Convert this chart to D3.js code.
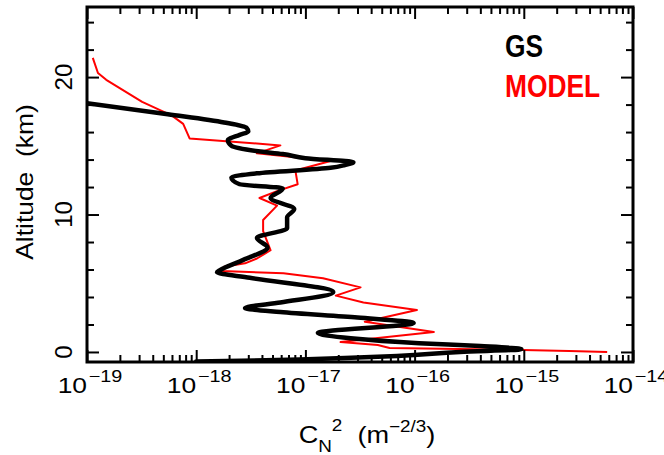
<!DOCTYPE html>
<html>
<head>
<meta charset="utf-8">
<script src="https://cdn.jsdelivr.net/npm/d3@7"></script>
<style>
  body { margin: 0; background: #fff; }
  svg { display: block; }
  text { font-family: "Liberation Sans", Arial, Helvetica, sans-serif; }
</style>
</head>
<body>
<svg id="chart" width="664" height="455"></svg>
<script>
// Ground-based scintillometer profile (GS): altitude in km, Cn2 in m^-2/3
const gsAltitude = [18.1, 17.3, 16.7, 16.3, 16.05, 15.8, 15.4, 15.0, 14.6, 14.4, 14.1, 13.8, 13.6, 13.4,
  13.0, 12.7, 12.2, 11.9, 11.2, 10.4, 9.8, 9.0, 8.3, 7.6, 6.7, 5.95, 5.8, 5.4, 4.35, 3.6, 3.2, 2.9,
  2.5, 2.1, 1.38, 1.0, 0.64, 0.43, 0.2, 0.0, -0.3, -0.55, -0.7];
const gsCn2 = [1.0e-19, 5.5e-19, 1.8e-18, 2.9e-18, 3.0e-18, 2.5e-18, 1.95e-18, 2.1e-18, 3.7e-18, 6.2e-18,
  1.0e-17, 2.75e-17, 2.3e-17, 1.7e-17, 3.6e-18, 2.1e-18, 2.5e-18, 6.2e-18, 4.8e-18, 7.9e-18, 6.8e-18,
  6.8e-18, 3.6e-18, 4.5e-18, 2.7e-18, 1.65e-18, 1.55e-18, 3.1e-18, 1.8e-17, 5.9e-18, 2.8e-18, 5.9e-18,
  3.0e-17, 9.8e-17, 1.3e-17, 2.6e-17, 1.1e-16, 4.0e-16, 9.5e-16, 2.6e-16, 6.9e-17, 8.9e-18, 1.0e-18];

// Model profile
const modelAltitude = [21.4, 20.3, 19.8, 18.2, 17.2, 16.6, 15.54, 15.03, 14.45, 13.9, 13.2, 12.2, 11.7,
  11.2, 10.65, 9.6, 8.8, 7.4, 6.8, 6.45, 6.2, 5.9, 5.72, 5.36, 4.7, 4.1, 3.6, 3.05, 2.2, 1.45, 0.72,
  0.5, 0.29, 0.14, 0.07, 0.0];
const modelCn2 = [1.13e-19, 1.26e-19, 1.5e-19, 3.2e-19, 6.0e-19, 7.6e-19, 8.7e-19, 5.9e-18, 3.6e-18,
  1.7e-17, 8.1e-18, 8.5e-18, 5.5e-18, 3.8e-18, 5.5e-18, 4.1e-18, 4.1e-18, 4.8e-18, 3.6e-18, 2.8e-18,
  1.8e-18, 1.7e-18, 6.3e-18, 1.45e-17, 3.2e-17, 1.9e-17, 3.4e-17, 1.05e-16, 3.5e-17, 1.5e-16, 2.1e-17,
  4.6e-17, 5.9e-17, 9.8e-16, 2.6e-15, 5.8e-15];

const xTickExponents = [-19, -18, -17, -16, -15, -14];
const yMajorTicks = [0, 10, 20];
const yMinorTicks = [2, 4, 6, 8, 12, 14, 16, 18, 22, 24];
const legendLabels = ["GS", "MODEL"];
const seriesColors = ["#000000", "#ff0000"];

const svg = d3.select("#chart");
const plot = { left: 87, right: 633, top: 7, bottom: 362 };

const x = d3.scaleLog().domain([1e-19, 1e-14]).range([plot.left, plot.right]);
const y = d3.scaleLinear().domain([-0.73, 25.1]).range([plot.bottom, plot.top]);

// minor decade ticks 2..9 in every decade
const xMinor = [];
xTickExponents.slice(0, -1).forEach(e => {
  for (let m = 2; m <= 9; m++) xMinor.push(m * Math.pow(10, e));
});
const xMajor = xTickExponents.map(e => Math.pow(10, e));

// clip curves to the frame
svg.append("clipPath").attr("id", "plotClip")
  .append("rect")
  .attr("x", plot.left).attr("y", plot.top)
  .attr("width", plot.right - plot.left).attr("height", plot.bottom - plot.top);

const lines = svg.append("g").attr("clip-path", "url(#plotClip)");

const modelLine = d3.line()
  .x((d, i) => x(modelCn2[i]))
  .y(d => y(d))
  .curve(d3.curveLinear);
lines.append("path")
  .attr("d", modelLine(modelAltitude))
  .attr("fill", "none")
  .attr("stroke", seriesColors[1])
  .attr("stroke-width", 2)
  .attr("stroke-linejoin", "round");

const gsLine = d3.line()
  .x((d, i) => x(gsCn2[i]))
  .y(d => y(d))
  .curve(d3.curveMonotoneY);
lines.append("path")
  .attr("d", gsLine(gsAltitude))
  .attr("fill", "none")
  .attr("stroke", seriesColors[0])
  .attr("stroke-width", 4.5)
  .attr("stroke-linejoin", "round")
  .attr("stroke-linecap", "round");

// axes: ticks all point inward
function styleAxis(g) {
  g.select(".domain").remove();
  g.selectAll(".tick line").attr("stroke", "#000").attr("stroke-width", 2);
  g.selectAll(".tick text").remove();
}
const majorLen = 12, minorLen = 7;
svg.append("g").attr("transform", `translate(0,${plot.bottom})`)
  .call(d3.axisBottom(x).tickValues(xMajor).tickSize(-majorLen)).call(styleAxis);
svg.append("g").attr("transform", `translate(0,${plot.bottom})`)
  .call(d3.axisBottom(x).tickValues(xMinor).tickSize(-minorLen)).call(styleAxis);
svg.append("g").attr("transform", `translate(0,${plot.top})`)
  .call(d3.axisTop(x).tickValues(xMajor).tickSize(-majorLen)).call(styleAxis);
svg.append("g").attr("transform", `translate(0,${plot.top})`)
  .call(d3.axisTop(x).tickValues(xMinor).tickSize(-minorLen)).call(styleAxis);
svg.append("g").attr("transform", `translate(${plot.left},0)`)
  .call(d3.axisLeft(y).tickValues(yMajorTicks).tickSize(-majorLen)).call(styleAxis);
svg.append("g").attr("transform", `translate(${plot.left},0)`)
  .call(d3.axisLeft(y).tickValues(yMinorTicks).tickSize(-minorLen)).call(styleAxis);
svg.append("g").attr("transform", `translate(${plot.right},0)`)
  .call(d3.axisRight(y).tickValues(yMajorTicks).tickSize(-majorLen)).call(styleAxis);
svg.append("g").attr("transform", `translate(${plot.right},0)`)
  .call(d3.axisRight(y).tickValues(yMinorTicks).tickSize(-minorLen)).call(styleAxis);

// frame
svg.append("rect")
  .attr("x", plot.left).attr("y", plot.top)
  .attr("width", plot.right - plot.left).attr("height", plot.bottom - plot.top)
  .attr("fill", "none").attr("stroke", "#000").attr("stroke-width", 3);

// x tick labels: 10 with superscript exponent (the last one runs off the page edge)
const xLabels = svg.append("g");
xTickExponents.forEach(e => {
  const g = xLabels.append("g")
    .attr("transform", `translate(${x(Math.pow(10, e))},393) scale(1.2,1)`);
  g.append("text").attr("text-anchor", "end").attr("x", 0).attr("y", 0)
    .attr("font-size", 22).text("10");
  g.append("text").attr("text-anchor", "start").attr("x", 1.5).attr("y", -11)
    .attr("font-size", 16.5).text("\u2212" + Math.abs(e));
});

// y tick labels, rotated
yMajorTicks.forEach(v => {
  svg.append("text")
    .attr("transform", `translate(71.5,${y(v)}) rotate(-90)`)
    .attr("text-anchor", "middle")
    .attr("font-size", 24)
    .text(v);
});

// axis titles
svg.append("text")
  .attr("transform", "translate(33,182) rotate(-90) scale(1.15,1)")
  .attr("text-anchor", "middle")
  .attr("font-size", 23)
  .attr("xml:space", "preserve")
  .text("Altitude  (km)");

const xTitle = svg.append("g").attr("transform", "translate(367,443) scale(1.18,1)")
  .append("text").attr("text-anchor", "middle").attr("font-size", 23);
xTitle.append("tspan").text("C");
xTitle.append("tspan").attr("font-size", 16).attr("dy", 9).text("N");
xTitle.append("tspan").attr("font-size", 16).attr("dy", -21).text("2");
xTitle.append("tspan").attr("dy", 12).text("\u00a0\u00a0(m");
xTitle.append("tspan").attr("font-size", 16).attr("dy", -11).text("\u22122/3");
xTitle.append("tspan").attr("dy", 11).text(")");

// legend
legendLabels.forEach((label, i) => {
  svg.append("g")
    .attr("transform", `translate(505,${57 + i * 40}) scale(0.85,1)`)
    .append("text")
    .attr("font-size", 31)
    .attr("font-weight", "bold")
    .attr("fill", seriesColors[i])
    .text(label);
});
</script>
</body>
</html>
